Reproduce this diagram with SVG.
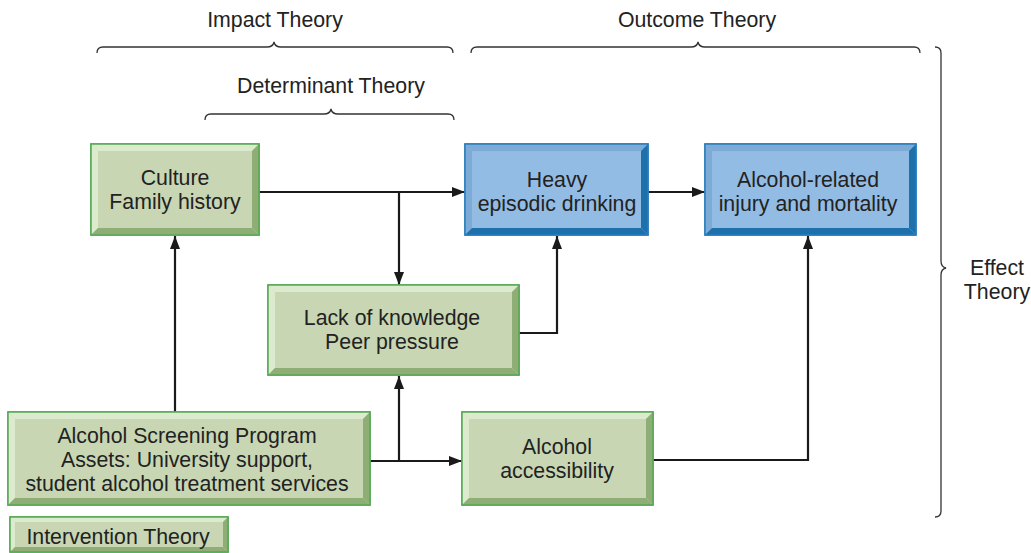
<svg xmlns="http://www.w3.org/2000/svg" width="1031" height="553" viewBox="0 0 1031 553">
<defs>
<marker id="arr" viewBox="0 0 13 10" refX="13" refY="5" markerWidth="13" markerHeight="10" markerUnits="userSpaceOnUse" orient="auto">
<path d="M0,0 L13,5 L0,10 z" fill="#1a1a1a"/>
</marker>
<style>
text{font-family:"Liberation Sans",Arial,sans-serif;font-size:21.3px;fill:#222;text-anchor:middle}
.gf{fill:#c8d6b3;stroke:#55a855;stroke-width:1.5}
.gl{fill:#dcebcd}
.gd{fill:#8fae76}
.bf{fill:#93bce4;stroke:#2a7dbd;stroke-width:1.5}
.bl{fill:#7eaad6}
.bd{fill:#1e70aa}
.c{fill:none;stroke:#1a1a1a;stroke-width:2.2}
.br{fill:none;stroke:#333;stroke-width:1.3}
</style>
</defs>

<g id="braces">
<path class="br" d="M97,53 Q97,47 103,47 L267,47 Q273,47 274,42 Q275,47 281,47 L447,47 Q453,47 453,53"/>
<text x="275" y="27">Impact Theory</text>
<path class="br" d="M471,53 Q471,47 477,47 L691,47 Q697,47 698,42 Q699,47 705,47 L914,47 Q920,47 920,53"/>
<text x="697" y="27">Outcome Theory</text>
<path class="br" d="M205,120 Q205,114 211,114 L324,114 Q330,114 331,109 Q332,114 338,114 L448,114 Q454,114 454,120"/>
<text x="331" y="93">Determinant Theory</text>
<path class="br" d="M935,47 Q941,47 941,53 L941,261 Q941,267 946,268 Q941,269 941,275 L941,511 Q941,517 935,517"/>
<text x="997" y="275">Effect</text>
<text x="997" y="299">Theory</text>
</g>

<g id="connectors">
<path class="c" d="M259,192 L465,192" marker-end="url(#arr)"/>
<path class="c" d="M399,192 L399,285" marker-end="url(#arr)"/>
<path class="c" d="M648,192 L705,192" marker-end="url(#arr)"/>
<path class="c" d="M519,333 L557,333 L557,236" marker-end="url(#arr)"/>
<path class="c" d="M175,412 L175,236" marker-end="url(#arr)"/>
<path class="c" d="M370,461 L462,461" marker-end="url(#arr)"/>
<path class="c" d="M399,461 L399,376" marker-end="url(#arr)"/>
<path class="c" d="M653,460 L808,460 L808,236" marker-end="url(#arr)"/>
</g>

<g id="culture">
<rect class="gf" x="91" y="144" width="168" height="91"/>
<polygon class="gl" points="91,144 259,144 252,151 98,151"/>
<polygon class="gl" points="91,144 98,151 98,228 91,235"/>
<polygon class="gd" points="259,144 259,235 252,228 252,151"/>
<polygon class="gd" points="91,235 259,235 252,228 98,228"/>
<rect x="91" y="144" width="168" height="91" fill="none" stroke="#55a855" stroke-width="1.5"/>
<text x="175" y="185">Culture</text>
<text x="175" y="209">Family history</text>
</g>

<g id="heavy">
<rect class="bf" x="465" y="144" width="183" height="91"/>
<polygon class="bl" points="465,144 648,144 641,151 472,151"/>
<polygon class="bl" points="465,144 472,151 472,228 465,235"/>
<polygon class="bd" points="648,144 648,235 641,228 641,151"/>
<polygon class="bd" points="465,235 648,235 641,228 472,228"/>
<rect x="465" y="144" width="183" height="91" fill="none" stroke="#2a7dbd" stroke-width="1.5"/>
<text x="557" y="187">Heavy</text>
<text x="557" y="211">episodic drinking</text>
</g>

<g id="injury">
<rect class="bf" x="705" y="144" width="211" height="91"/>
<polygon class="bl" points="705,144 916,144 909,151 712,151"/>
<polygon class="bl" points="705,144 712,151 712,228 705,235"/>
<polygon class="bd" points="916,144 916,235 909,228 909,151"/>
<polygon class="bd" points="705,235 916,235 909,228 712,228"/>
<rect x="705" y="144" width="211" height="91" fill="none" stroke="#2a7dbd" stroke-width="1.5"/>
<text x="808" y="187">Alcohol-related</text>
<text x="808" y="211">injury and mortality</text>
</g>

<g id="knowledge">
<rect class="gf" x="268" y="285" width="251" height="90"/>
<polygon class="gl" points="268,285 519,285 512,292 275,292"/>
<polygon class="gl" points="268,285 275,292 275,368 268,375"/>
<polygon class="gd" points="519,285 519,375 512,368 512,292"/>
<polygon class="gd" points="268,375 519,375 512,368 275,368"/>
<rect x="268" y="285" width="251" height="90" fill="none" stroke="#55a855" stroke-width="1.5"/>
<text x="392" y="325">Lack of knowledge</text>
<text x="392" y="349">Peer pressure</text>
</g>

<g id="screening">
<rect class="gf" x="8" y="412" width="362" height="93"/>
<polygon class="gl" points="8,412 370,412 363,419 15,419"/>
<polygon class="gl" points="8,412 15,419 15,498 8,505"/>
<polygon class="gd" points="370,412 370,505 363,498 363,419"/>
<polygon class="gd" points="8,505 370,505 363,498 15,498"/>
<rect x="8" y="412" width="362" height="93" fill="none" stroke="#55a855" stroke-width="1.5"/>
<text x="187" y="443">Alcohol Screening Program</text>
<text x="187" y="467">Assets: University support,</text>
<text x="187" y="491">student alcohol treatment services</text>
</g>

<g id="accessibility">
<rect class="gf" x="462" y="412" width="191" height="93"/>
<polygon class="gl" points="462,412 653,412 646,419 469,419"/>
<polygon class="gl" points="462,412 469,419 469,498 462,505"/>
<polygon class="gd" points="653,412 653,505 646,498 646,419"/>
<polygon class="gd" points="462,505 653,505 646,498 469,498"/>
<rect x="462" y="412" width="191" height="93" fill="none" stroke="#55a855" stroke-width="1.5"/>
<text x="557" y="454">Alcohol</text>
<text x="557" y="478">accessibility</text>
</g>

<g id="intervention">
<rect class="gf" x="10" y="517" width="218" height="35"/>
<polygon class="gl" points="10,517 228,517 223,522 15,522"/>
<polygon class="gl" points="10,517 15,522 15,547 10,552"/>
<polygon class="gd" points="228,517 228,552 223,547 223,522"/>
<polygon class="gd" points="10,552 228,552 223,547 15,547"/>
<rect x="10" y="517" width="218" height="35" fill="none" stroke="#55a855" stroke-width="1.5"/>
<text x="118" y="544">Intervention Theory</text>
</g>
</svg>
